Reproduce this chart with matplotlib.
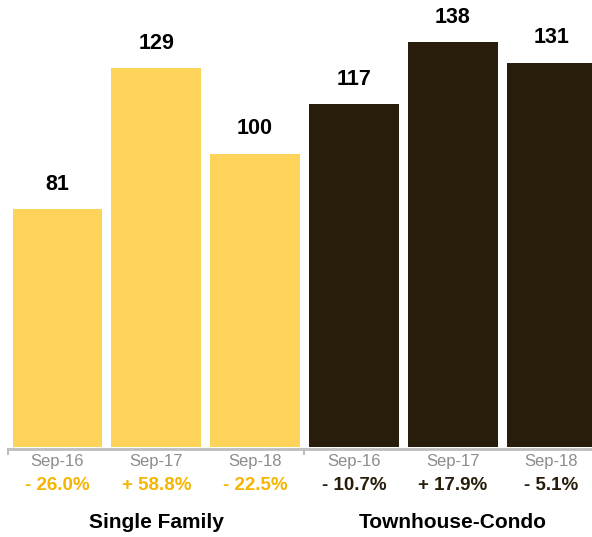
import matplotlib.pyplot as plt

plt.rcParams['font.family'] = ['Liberation Sans', 'DejaVu Sans']

groups = ['Single Family', 'Townhouse-Condo']
dates = ['Sep-16', 'Sep-17', 'Sep-18']
single_family = [81, 129, 100]
townhouse = [117, 138, 131]
sf_change = ['- 26.0%', '+ 58.8%', '- 22.5%']
th_change = ['- 10.7%', '+ 17.9%', '- 5.1%']

yellow = '#FDD35A'
dark = '#271D0A'
orange = '#F6B500'

fig = plt.figure(figsize=(5.92, 5.37), dpi=100)
ax = fig.add_axes([0, 90 / 537, 1, 447 / 537])

values = single_family + townhouse
colors = [yellow] * 3 + [dark] * 3
xs = list(range(len(values)))
ax.bar(xs, values, width=0.91, color=colors)

ax.set_xlim(-0.582, 5.41)
ax.set_ylim(0, 152.3)
ax.axis('off')

# baseline with group ticks
ax.plot([-0.5, 5.5], [-0.7, -0.7], color='#BDBDBD', lw=2, clip_on=False)
for t in [-0.5, 2.5]:
    ax.plot([t, t], [-0.7, -2.4], color='#BDBDBD', lw=1.5, clip_on=False)

changes = sf_change + th_change
chg_colors = [orange] * 3 + [dark] * 3
for i, v in enumerate(values):
    ax.text(i, v + 4.8, str(v), ha='center', va='bottom', fontsize=15.5,
            fontweight='bold', color='black')
    ax.text(i, -5.0, dates[i % 3], ha='center', va='center', fontsize=12,
            color='#8C8C8C')
    ax.text(i, -13.0, changes[i], ha='center', va='center', fontsize=13.5,
            fontweight='bold', color=chg_colors[i])

ax.text(1, -25.8, groups[0], ha='center', va='center', fontsize=15,
        fontweight='bold', color='black')
ax.text(4, -25.8, groups[1], ha='center', va='center', fontsize=15,
        fontweight='bold', color='black')

fig.savefig('out.png', dpi=100)
